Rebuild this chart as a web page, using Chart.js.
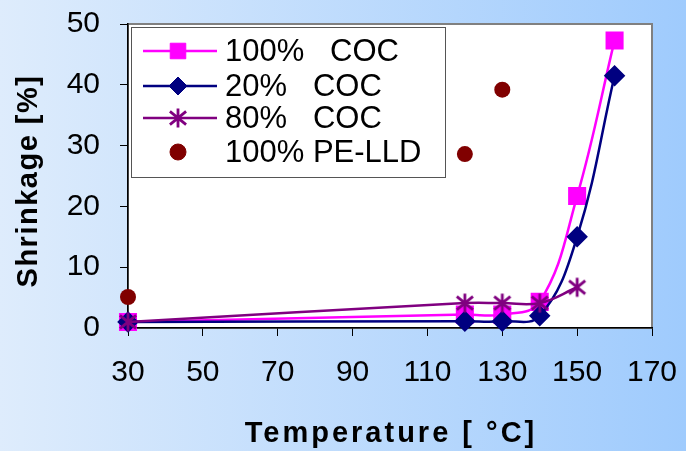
<!DOCTYPE html>
<html>
<head>
<meta charset="utf-8">
<script src="https://cdn.jsdelivr.net/npm/chart.js@4"></script>
<style>
  html, body { margin: 0; padding: 0; }
  body {
    width: 686px;
    height: 451px;
    overflow: hidden;
    background: linear-gradient(to right, #deecfc, #9fcbfd);
  }
</style>
</head>
<body>
<canvas id="shrinkChart" width="686" height="451"></canvas>
<script>
// Temperatures (°C) and shrinkage (%)
const tempCoc100 = [30, 120, 130, 140, 150, 160];
const shrinkCoc100 = [1, 2.2, 2.2, 4.3, 21.7, 47.3];

const tempCoc20 = [30, 120, 130, 140, 150, 160];
const shrinkCoc20 = [1, 1.1, 1.1, 2, 15, 41.5];

const tempCoc80 = [30, 120, 130, 140, 150];
const shrinkCoc80 = [1, 4.1, 4.1, 4.1, 6.7];

const tempPeLld = [30, 120, 130];
const shrinkPeLld = [5.1, 28.6, 39.2];

const seriesLabels = ['100%   COC', '20%   COC', '80%   COC', '100% PE-LLD'];
const xTitle = 'Temperature [ °C]';
const yTitle = 'Shrinkage [%]';

const FONT = "'Liberation Sans', Arial, sans-serif";

const toPoints = (xs, ys) => xs.map((x, i) => ({ x: x, y: ys[i] }));

// Excel-style asterisk marker (vertical bar + X)
function makeStar(color, size) {
  const c = document.createElement('canvas');
  c.width = size;
  c.height = size;
  const g = c.getContext('2d');
  const m = size / 2, r = size / 2 - 1.5;
  g.strokeStyle = color;
  g.lineWidth = 2.8;
  g.beginPath();
  g.moveTo(m, m - r); g.lineTo(m, m + r);
  g.moveTo(m - r * 0.85, m - r * 0.7); g.lineTo(m + r * 0.85, m + r * 0.7);
  g.moveTo(m + r * 0.85, m - r * 0.7); g.lineTo(m - r * 0.85, m + r * 0.7);
  g.stroke();
  return c;
}
const starMarker = makeStar('#800080', 22);

// White plot area with grey frame
const plotFrame = {
  id: 'plotFrame',
  beforeDraw(chart) {
    const { ctx, chartArea: a } = chart;
    ctx.save();
    ctx.fillStyle = '#ffffff';
    ctx.fillRect(a.left, a.top, a.right - a.left, a.bottom - a.top);
    ctx.strokeStyle = '#808080';
    ctx.lineWidth = 2;
    ctx.strokeRect(a.left, a.top, a.right - a.left, a.bottom - a.top);
    ctx.restore();
  }
};

// Axis titles (letter-spaced, bold)
const axisTitles = {
  id: 'axisTitles',
  afterDraw(chart) {
    const ctx = chart.ctx;
    ctx.save();
    ctx.fillStyle = '#000';
    ctx.font = 'bold 29px ' + FONT;
    ctx.textAlign = 'center';
    ctx.textBaseline = 'middle';
    ctx.letterSpacing = '3px';
    ctx.fillText(xTitle, 391, 434);
    ctx.letterSpacing = '1.5px';
    ctx.translate(29, 181);
    ctx.rotate(-Math.PI / 2);
    ctx.fillText(yTitle, 0, 0);
    ctx.restore();
  }
};

// Boxed legend inside the plot area
const boxLegend = {
  id: 'boxLegend',
  afterDraw(chart) {
    const ctx = chart.ctx;
    const rows = [51, 86, 118, 152];
    ctx.save();
    ctx.fillStyle = '#ffffff';
    ctx.fillRect(131, 27, 314, 150);
    ctx.strokeStyle = '#555555';
    ctx.lineWidth = 1;
    ctx.strokeRect(131.5, 27.5, 314, 150);
    chart.data.datasets.forEach((ds, i) => {
      const y = rows[i];
      if (ds.showLine !== false) {
        ctx.strokeStyle = ds.borderColor;
        ctx.lineWidth = ds.borderWidth;
        ctx.beginPath();
        ctx.moveTo(143, y);
        ctx.lineTo(217, y);
        ctx.stroke();
      }
      ctx.fillStyle = ds.pointBackgroundColor;
      ctx.strokeStyle = ds.pointBorderColor;
      ctx.lineWidth = 1;
      Chart.helpers.drawPoint(ctx, {
        pointStyle: ds.pointStyle,
        rotation: 0,
        radius: ds.pointRadius,
        borderWidth: 1
      }, 178, y);
      ctx.fillStyle = '#000';
      ctx.font = '31px ' + FONT;
      ctx.textAlign = 'left';
      ctx.textBaseline = 'middle';
      ctx.fillText(seriesLabels[i], 225, y + 1);
    });
    ctx.restore();
  }
};

new Chart(document.getElementById('shrinkChart'), {
  type: 'line',
  data: {
    datasets: [{
      label: seriesLabels[0],
      data: toPoints(tempCoc100, shrinkCoc100),
      borderColor: '#ff00ff',
      borderWidth: 2.5,
      pointStyle: 'rect',
      pointRadius: 11,
      pointBackgroundColor: '#ff00ff',
      pointBorderColor: '#ff00ff',
      tension: 0.4,
      clip: false,
      order: 4
    }, {
      label: seriesLabels[1],
      data: toPoints(tempCoc20, shrinkCoc20),
      borderColor: '#000080',
      borderWidth: 2.5,
      pointStyle: 'rectRot',
      pointRadius: 9,
      pointBackgroundColor: '#000080',
      pointBorderColor: '#000080',
      tension: 0.4,
      clip: false,
      order: 3
    }, {
      label: seriesLabels[2],
      data: toPoints(tempCoc80, shrinkCoc80),
      borderColor: '#800080',
      borderWidth: 2.5,
      pointStyle: starMarker,
      pointRadius: 11,
      pointBackgroundColor: '#800080',
      pointBorderColor: '#800080',
      tension: 0.4,
      clip: false,
      order: 2
    }, {
      label: seriesLabels[3],
      data: toPoints(tempPeLld, shrinkPeLld),
      showLine: false,
      borderColor: '#800000',
      borderWidth: 0,
      pointStyle: 'circle',
      pointRadius: 8,
      pointBackgroundColor: '#800000',
      pointBorderColor: '#800000',
      clip: false,
      order: 1
    }]
  },
  options: {
    responsive: false,
    animation: false,
    layout: { padding: { top: 24, right: 34, left: 0, bottom: 0 } },
    plugins: {
      legend: { display: false },
      tooltip: { enabled: false }
    },
    scales: {
      x: {
        type: 'linear',
        min: 30,
        max: 170,
        afterFit: s => { s.height = 123; s.paddingLeft = 0; s.paddingRight = 0; },
        border: { color: '#000', width: 1.5 },
        grid: { drawOnChartArea: false, tickLength: 8, color: '#000' },
        ticks: {
          stepSize: 20,
          color: '#000',
          padding: 19,
          font: { family: FONT, size: 30 }
        }
      },
      y: {
        min: 0,
        max: 50,
        afterFit: s => { s.width = 128; s.paddingTop = 0; s.paddingBottom = 0; },
        border: { color: '#000', width: 1.5 },
        grid: { drawOnChartArea: false, tickLength: 8, color: '#000' },
        ticks: {
          stepSize: 10,
          color: '#000',
          padding: 20,
          font: { family: FONT, size: 30 }
        }
      }
    }
  },
  plugins: [plotFrame, axisTitles, boxLegend]
});
</script>
</body>
</html>
